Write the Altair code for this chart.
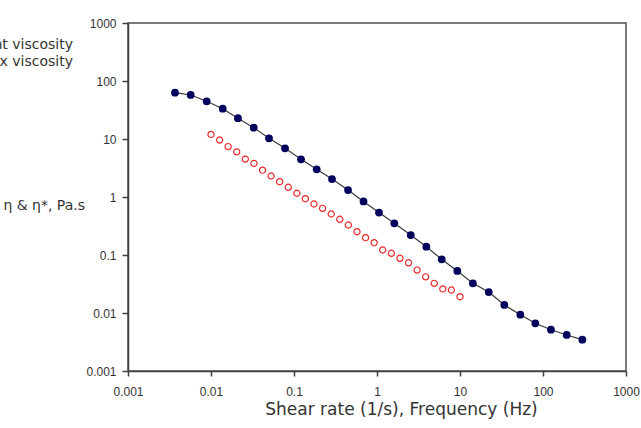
import altair as alt
import pandas as pd

# Apparent viscosity (filled navy circles, connected by a line)
shear_rate = [0.00368, 0.00569, 0.00887, 0.01383, 0.0211, 0.0327, 0.0500, 0.0780,
              0.1215, 0.1876, 0.287, 0.448, 0.688, 1.057, 1.616, 2.55, 3.93, 6.02,
              9.28, 14.3, 22.2, 34.2, 53.3, 80.8, 124.8, 193, 298]
apparent_visc = [62.8, 57.4, 44.7, 33.3, 22.8, 15.7, 10.3, 6.9, 4.47, 3.0, 2.04,
                 1.32, 0.84, 0.54, 0.352, 0.221, 0.139, 0.0843, 0.053, 0.0325,
                 0.023, 0.01374, 0.00935, 0.00664, 0.00515, 0.00418, 0.00347]

# Complex viscosity (open red circles)
frequency = [0.0100, 0.0127, 0.0161, 0.0204, 0.0259, 0.0329, 0.0418, 0.0530,
             0.0672, 0.0853, 0.108, 0.137, 0.174, 0.221, 0.281, 0.356, 0.452,
             0.574, 0.728, 0.924, 1.17, 1.49, 1.89, 2.40, 3.04, 3.86, 4.89,
             6.21, 7.88, 10.0]
complex_visc = [12.0, 9.6, 7.4, 6.0, 4.5, 3.8, 2.9, 2.3, 1.84, 1.47, 1.16, 0.935,
                0.757, 0.638, 0.509, 0.413, 0.329, 0.252, 0.199, 0.163, 0.122,
                0.107, 0.0877, 0.0734, 0.055, 0.042, 0.0325, 0.026, 0.0249, 0.0191]

tick_values = [0.001, 0.01, 0.1, 1, 10, 100, 1000]
legend_labels = ["Apparent viscosity", "Complex viscosity"]
y_label = "η & η*, Pa.s"
x_title = "Shear rate (1/s), Frequency (Hz)"

df_app = pd.DataFrame({"x": shear_rate, "y": apparent_visc})
df_cx = pd.DataFrame({"x": frequency, "y": complex_visc})

FONT = "Liberation Sans"
WIDE = "DejaVu Sans"
AX = "#404040"

xscale = alt.Scale(type="log", domain=[0.001, 1000], nice=False)
yscale = alt.Scale(type="log", domain=[0.001, 1000], nice=False)

xaxis = alt.Axis(values=tick_values, format="~g", grid=False, tickSize=5,
                 labelPadding=10, labelFont=FONT, labelFontSize=12,
                 labelColor="#333333", domainColor=AX, tickColor=AX,
                 domainWidth=1.5, tickWidth=1.5, title=x_title,
                 titleFont=WIDE, titleFontSize=17, titleFontWeight="normal",
                 titleColor="#333333", titleX=273, titleY=30, titleAlign="center",
                 titleBaseline="top", labelFlush=False)
yaxis = alt.Axis(values=tick_values, format="~g", grid=False, tickSize=6,
                 labelPadding=6, labelFont=FONT, labelFontSize=12,
                 labelColor="#333333", domainColor=AX, tickColor=AX,
                 domainWidth=1.5, tickWidth=1.5, title=None, labelFlush=False)

line = alt.Chart(df_app).mark_line(color="#3a3a3a", strokeWidth=1.2).encode(
    x=alt.X("x:Q", scale=xscale, axis=xaxis),
    y=alt.Y("y:Q", scale=yscale, axis=yaxis),
)
pts_app = alt.Chart(df_app).mark_point(filled=True, shape="circle", size=60,
                                       color="#00005c", opacity=1).encode(
    x=alt.X("x:Q", scale=xscale), y=alt.Y("y:Q", scale=yscale))
pts_cx = alt.Chart(df_cx).mark_point(filled=False, shape="circle", size=38,
                                     color="#e8282b", strokeWidth=1.2, opacity=1).encode(
    x=alt.X("x:Q", scale=xscale), y=alt.Y("y:Q", scale=yscale))

def label(text, x, y, size):
    return alt.Chart(pd.DataFrame({"t": [text]})).mark_text(
        align="right", baseline="middle", font=WIDE, fontSize=size, color="#333333"
    ).encode(text="t:N", x=alt.value(x), y=alt.value(y))

leg1 = label(legend_labels[0], -55, 22, 14)
leg2 = label(legend_labels[1], -55, 39, 14)
ylab = label(y_label, -43, 183, 14)

chart = alt.layer(line, pts_app, pts_cx, leg1, leg2, ylab).properties(
    width=498, height=348,
    autosize=alt.AutoSizeParams(type="none"),
    padding={"left": 128, "top": 23, "right": 15, "bottom": 57},
    background="white",
).configure_view(stroke="#505050", strokeWidth=1.5)

chart.save("out.html", embed_options={"renderer": "svg", "actions": False})
